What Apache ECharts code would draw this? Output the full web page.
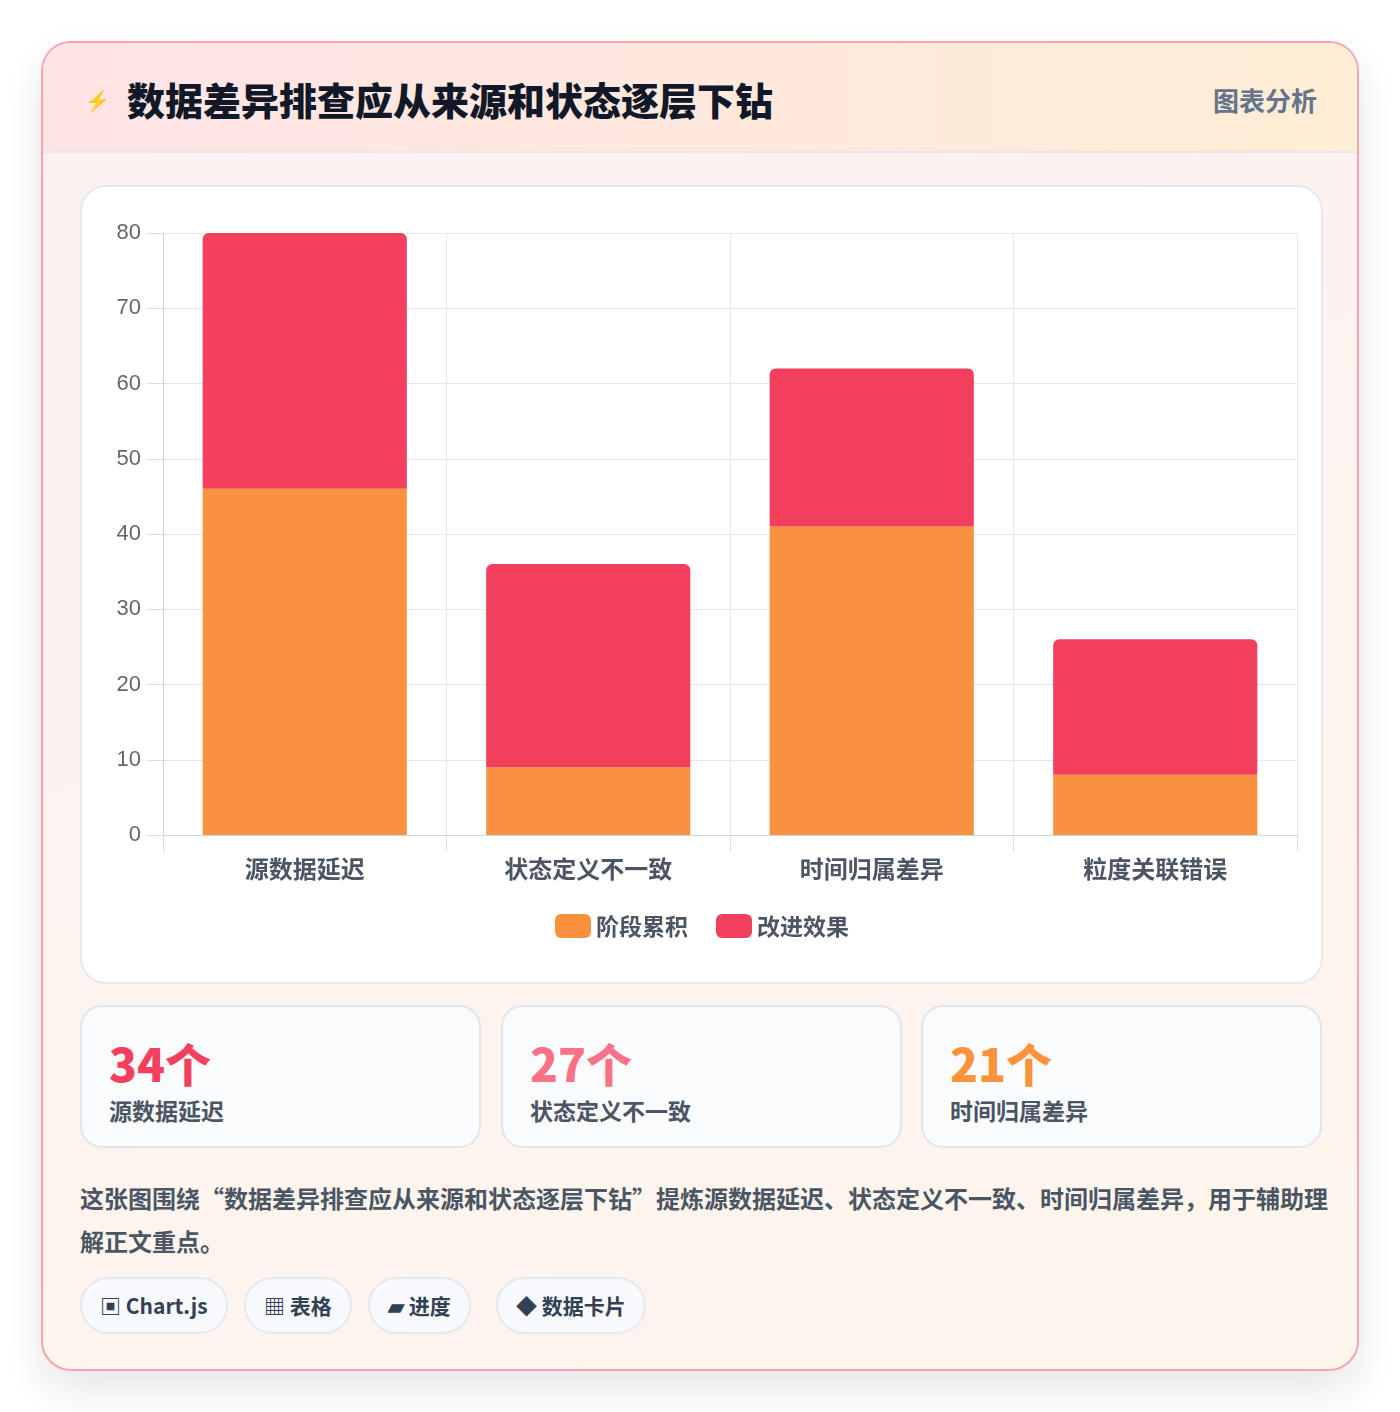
<!DOCTYPE html>
<html><head><meta charset="utf-8">
<script src="https://cdn.jsdelivr.net/npm/echarts@6/dist/echarts.min.js"></script>
<style>
*{box-sizing:border-box;margin:0;padding:0}
body{width:1400px;height:1412px;background:#fff;font-family:"Noto Sans CJK SC","Noto Sans",sans-serif;position:relative;overflow:hidden}
.card{position:absolute;left:41px;top:41px;width:1318px;height:1330px;border:2px solid #f5a3ae;border-radius:30px;background:linear-gradient(160deg,#fdf0f2,#fdf6ec);box-shadow:0 18px 40px rgba(0,0,0,0.10);overflow:hidden}
.hdr{position:absolute;left:0;top:0;width:100%;height:110px;background:linear-gradient(90deg,#ffe4e6,#ffedd5);border-bottom:2px solid #e5e7eb}
.title{position:absolute;left:84px;top:28px;font-size:38px;font-weight:900;color:#111827}
.icon{position:absolute;left:42px;top:42px;font-size:20px;color:#3b5bdb}
.tag{position:absolute;right:40px;top:38px;font-size:26px;font-weight:700;color:#64748b}
.box{position:absolute;left:37px;top:142px;width:1243px;height:799px;background:#fff;border:2px solid #e5e9f2;border-radius:26px}
#chart{position:absolute;left:0;top:0;width:1240px;height:796px}
.stat{position:absolute;top:962px;width:401px;height:143px;background:#f9fbfd;border:2px solid #dfe6f0;border-radius:22px}
.stat .n{position:absolute;left:27px;top:22px;font-size:46px;font-weight:900}
.stat .l{position:absolute;left:27px;top:86px;font-size:23px;font-weight:700;color:#4b5563}
.desc{position:absolute;left:37px;top:1133px;width:1250px;font-size:24px;font-weight:700;color:#4b5563;line-height:43px}
.chip{position:absolute;top:1234px;height:57px;border:2px solid #e5e9f2;border-radius:29px;background:#f7f9fc;font-size:21px;font-weight:700;color:#334155;line-height:53px;padding:0 18px}
</style></head><body>
<div class="card">
 <div class="hdr"><span class="icon">⚡</span><div class="title">数据差异排查应从来源和状态逐层下钻</div><div class="tag">图表分析</div></div>
 <div class="box"><div id="chart"></div></div>
 <div class="stat" style="left:37px"><div class="n" style="color:#f43f5e">34个</div><div class="l">源数据延迟</div></div>
 <div class="stat" style="left:458px"><div class="n" style="color:#fb7185">27个</div><div class="l">状态定义不一致</div></div>
 <div class="stat" style="left:878px"><div class="n" style="color:#fb923c">21个</div><div class="l">时间归属差异</div></div>
 <div class="desc">这张图围绕“数据差异排查应从来源和状态逐层下钻”提炼源数据延迟、状态定义不一致、时间归属差异，用于辅助理解正文重点。</div>
 <div class="chip" style="left:37px">▣ Chart.js</div>
 <div class="chip" style="left:201px">▦ 表格</div>
 <div class="chip" style="left:325px">▰ 进度</div>
 <div class="chip" style="left:453px">◆ 数据卡片</div>
</div>
<script>
const categories=['源数据延迟','状态定义不一致','时间归属差异','粒度关联错误'];
const stageValues=[46,9,41,8];
const improveValues=[34,27,21,18];
const yTicks=[0,10,20,30,40,50,60,70,80];
const c=echarts.init(document.getElementById('chart'));
c.setOption({
 animation:false,
 grid:{left:81,right:25,top:46,bottom:148},
 legend:{bottom:40,left:'center',itemWidth:36,itemHeight:24,itemGap:28,textStyle:{fontSize:23,fontWeight:'bold',color:'#4b5563',fontFamily:'Noto Sans CJK SC'},data:['阶段累积','改进效果']},
 xAxis:{type:'category',data:categories,axisLine:{lineStyle:{color:'#cbd5e1'}},axisTick:{show:true,length:16,lineStyle:{color:'#d9dee7'}},splitLine:{show:true,lineStyle:{color:'#e5e9f0'}},axisLabel:{fontSize:24,fontWeight:'bold',color:'#4b5563',margin:22,fontFamily:'Noto Sans CJK SC'}},
 yAxis:{type:'value',min:0,max:yTicks[yTicks.length-1],interval:10,axisLine:{show:true,lineStyle:{color:'#cbd5e1'}},axisTick:{show:true,length:16,lineStyle:{color:'#d9dee7'}},splitLine:{lineStyle:{color:'#e2e8f0'}},axisLabel:{fontSize:22,color:'#666',margin:22}},
 series:[
  {name:'阶段累积',type:'bar',stack:'a',data:stageValues,barWidth:'72%',itemStyle:{color:'#f9923f'}},
  {name:'改进效果',type:'bar',stack:'a',data:improveValues,barWidth:'72%',itemStyle:{color:'#f23f5e',borderRadius:[6,6,0,0]}}
 ]
});
</script></body></html>
